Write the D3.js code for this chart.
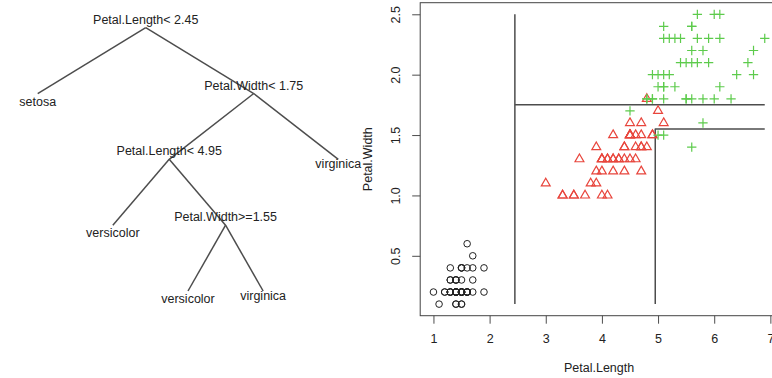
<!DOCTYPE html>
<html>
<head>
<meta charset="utf-8">
<script src="https://cdn.jsdelivr.net/npm/d3@7"></script>
<style>
  body { margin: 0; background: #fff; }
  svg { display: block; font-family: "Liberation Sans", Arial, sans-serif; }
</style>
</head>
<body>
<svg id="chart" width="772" height="378"></svg>
<script>
// iris petal measurements, one pair of arrays per species
const setosaLength = [1.4,1.4,1.3,1.5,1.4,1.7,1.4,1.5,1.4,1.5,1.5,1.6,1.4,1.1,1.2,1.5,1.3,1.4,1.7,1.5,1.7,1.5,1.0,1.7,1.9,1.6,1.6,1.5,1.4,1.6,1.6,1.5,1.5,1.4,1.5,1.2,1.3,1.4,1.3,1.5,1.3,1.3,1.3,1.6,1.9,1.4,1.6,1.4,1.5,1.4];
const setosaWidth  = [0.2,0.2,0.2,0.2,0.2,0.4,0.3,0.2,0.2,0.1,0.2,0.2,0.1,0.1,0.2,0.4,0.4,0.3,0.3,0.3,0.2,0.4,0.2,0.5,0.2,0.2,0.4,0.2,0.2,0.2,0.2,0.4,0.1,0.2,0.2,0.2,0.2,0.1,0.2,0.2,0.3,0.3,0.2,0.6,0.4,0.3,0.2,0.2,0.2,0.2];
const versicolorLength = [4.7,4.5,4.9,4.0,4.6,4.5,4.7,3.3,4.6,3.9,3.5,4.2,4.0,4.7,3.6,4.4,4.5,4.1,4.5,3.9,4.8,4.0,4.9,4.7,4.3,4.4,4.8,5.0,4.5,3.5,3.8,3.7,3.9,5.1,4.5,4.5,4.7,4.4,4.1,4.0,4.4,4.6,4.0,3.3,4.2,4.2,4.2,4.3,3.0,4.1];
const versicolorWidth  = [1.4,1.5,1.5,1.3,1.5,1.3,1.6,1.0,1.3,1.4,1.0,1.5,1.0,1.4,1.3,1.4,1.5,1.0,1.5,1.1,1.8,1.3,1.5,1.2,1.3,1.4,1.4,1.7,1.5,1.0,1.1,1.0,1.2,1.6,1.5,1.6,1.5,1.3,1.3,1.3,1.2,1.4,1.2,1.0,1.3,1.2,1.3,1.3,1.1,1.3];
const virginicaLength = [6.0,5.1,5.9,5.6,5.8,6.6,4.5,6.3,5.8,6.1,5.1,5.3,5.5,5.0,5.1,5.3,5.5,6.7,6.9,5.0,5.7,4.9,6.7,4.9,5.7,6.0,4.8,4.9,5.6,5.8,6.1,6.4,5.6,5.1,5.6,6.1,5.6,5.5,4.8,5.4,5.6,5.1,5.1,5.9,5.7,5.2,5.0,5.2,5.4,5.1];
const virginicaWidth  = [2.5,1.9,2.1,1.8,2.2,2.1,1.7,1.8,1.8,2.5,2.0,1.9,2.1,2.0,2.4,2.3,1.8,2.2,2.3,1.5,2.3,2.0,2.0,1.8,2.1,1.8,1.8,1.8,2.1,1.6,1.9,2.0,2.2,1.5,1.4,2.3,2.4,1.8,1.8,2.1,2.4,2.3,1.9,2.3,2.5,2.3,1.9,2.0,2.3,1.8];

// fitted rpart tree
const nodeIds    = [1, 2, 3, 6, 12, 13, 26, 27, 7];
const nodeParent = [null, 1, 1, 3, 6, 6, 13, 13, 3];
const nodeLabels = ["Petal.Length< 2.45", "setosa", "Petal.Width< 1.75", "Petal.Length< 4.95",
                    "versicolor", "Petal.Width>=1.55", "versicolor", "virginica", "virginica"];

// split thresholds
const splitLength1 = 2.45;
const splitWidth1 = 1.75;
const splitLength2 = 4.95;
const splitWidth2 = 1.55;

const xTicks = [1, 2, 3, 4, 5, 6, 7];
const yTicks = [0.5, 1.0, 1.5, 2.0, 2.5];

const font = "12.5px 'Liberation Sans', Arial, sans-serif";
const ink = "#222";
const lineCol = "#4d4d4d";

const svg = d3.select("#chart");

// ---------- tree ----------
const root = d3.stratify()
  .id((d, i) => nodeIds[i])
  .parentId((d, i) => nodeParent[i])(nodeLabels.map((label, i) => ({ label })));

const leaves = root.leaves();
leaves.forEach((d, i) => d.xi = i + 1);
root.eachAfter(d => { if (d.children) d.xi = d3.mean(d.children, c => c.xi); });

const tx = d3.scaleLinear().domain([1, leaves.length]).range([37.7, 338.3]);
const ty = d3.scaleLinear().domain([0, root.height]).range([27.7, 291]);

const tree = svg.append("g").attr("class", "tree");

tree.selectAll("line")
  .data(root.links())
  .join("line")
  .attr("x1", d => tx(d.source.xi))
  .attr("y1", d => ty(d.source.depth))
  .attr("x2", d => tx(d.target.xi))
  .attr("y2", d => ty(d.target.depth))
  .attr("stroke", lineCol)
  .attr("stroke-width", 1.5);

const ctx = document.createElement("canvas").getContext("2d");
ctx.font = font;

tree.selectAll("text")
  .data(root.descendants())
  .join("text")
  .attr("x", d => tx(d.xi))
  .attr("y", d => {
    if (d.children) return ty(d.depth) - 4;
    const desc = ctx.measureText(d.data.label).actualBoundingBoxDescent || 0;
    return ty(d.depth) + 12 - desc;
  })
  .attr("text-anchor", "middle")
  .style("font", font)
  .attr("fill", ink)
  .text(d => d.data.label);

// ---------- scatter ----------
const allLength = [...setosaLength, ...versicolorLength, ...virginicaLength];
const allWidth = [...setosaWidth, ...versicolorWidth, ...virginicaWidth];
const [lenMin, lenMax] = d3.extent(allLength);
const [widMin, widMax] = d3.extent(allWidth);
const padX = (lenMax - lenMin) * 0.04, padY = (widMax - widMin) * 0.04;

const x = d3.scaleLinear().domain([lenMin - padX, lenMax + padX]).range([420.2, 778]);
const y = d3.scaleLinear().domain([widMin - padY, widMax + padY]).range([315.7, 2.7]);

const plot = svg.append("g").attr("class", "scatter");

const xAxis = plot.append("g")
  .attr("transform", `translate(0,${y.range()[0]})`)
  .call(d3.axisBottom(x).tickValues(xTicks).tickSize(8).tickPadding(10).tickFormat(d3.format("d")));
const yAxis = plot.append("g")
  .attr("transform", `translate(${x.range()[0]},0)`)
  .call(d3.axisLeft(y).tickValues(yTicks).tickSize(8).tickFormat(d3.format(".1f")));

[xAxis, yAxis].forEach(g => {
  g.select(".domain").remove();
  g.selectAll("line").attr("stroke", lineCol);
  g.selectAll("text").style("font", font).attr("fill", ink);
});
yAxis.selectAll("text")
  .attr("x", null).attr("dy", null)
  .attr("text-anchor", "middle")
  .attr("transform", "translate(-20,0) rotate(-90)");

plot.append("rect")
  .attr("x", x.range()[0]).attr("y", y.range()[1])
  .attr("width", x.range()[1] - x.range()[0])
  .attr("height", y.range()[0] - y.range()[1])
  .attr("fill", "none").attr("stroke", "#444").attr("stroke-width", 1);

plot.append("text")
  .attr("x", (x.range()[0] + x.range()[1]) / 2).attr("y", 372)
  .attr("text-anchor", "middle").style("font", font).attr("fill", ink)
  .text("Petal.Length");
plot.append("text")
  .attr("transform", `translate(372,${(y.range()[0] + y.range()[1]) / 2}) rotate(-90)`)
  .attr("text-anchor", "middle").style("font", font).attr("fill", ink)
  .text("Petal.Width");

// partition lines
const splitPaths = [
  [[splitLength1, widMin], [splitLength1, widMax]],
  [[splitLength1, splitWidth1], [lenMax, splitWidth1]],
  [[splitLength2, widMin], [splitLength2, splitWidth2], [lenMax, splitWidth2]]
];
const line = d3.line().x(d => x(d[0])).y(d => y(d[1]));
plot.selectAll("path.split")
  .data(splitPaths)
  .join("path")
  .attr("class", "split")
  .attr("d", line)
  .attr("fill", "none")
  .attr("stroke", lineCol)
  .attr("stroke-width", 1.5)
  .attr("stroke-linejoin", "round");

// symbols, sized like R's pch 1/2/3
const rad = 3.3;
const triangle = {
  draw(p) {
    const top = 1.5551 * rad, xc = 1.3468 * rad, yc = 0.7776 * rad;
    p.moveTo(0, -top); p.lineTo(xc, yc); p.lineTo(-xc, yc); p.closePath();
  }
};
const plus = {
  draw(p) {
    const r = Math.SQRT2 * rad;
    p.moveTo(-r, 0); p.lineTo(r, 0); p.moveTo(0, -r); p.lineTo(0, r);
  }
};

plot.append("g").selectAll("circle")
  .data(d3.zip(setosaLength, setosaWidth))
  .join("circle")
  .attr("cx", d => x(d[0])).attr("cy", d => y(d[1]))
  .attr("r", rad)
  .attr("fill", "none").attr("stroke", "#222").attr("stroke-width", 1);

plot.append("g").selectAll("path")
  .data(d3.zip(versicolorLength, versicolorWidth))
  .join("path")
  .attr("transform", d => `translate(${x(d[0])},${y(d[1])})`)
  .attr("d", d3.symbol(triangle)())
  .attr("fill", "none").attr("stroke", "#E8453C").attr("stroke-width", 1.2);

plot.append("g").selectAll("path")
  .data(d3.zip(virginicaLength, virginicaWidth))
  .join("path")
  .attr("transform", d => `translate(${x(d[0])},${y(d[1])})`)
  .attr("d", d3.symbol(plus)())
  .attr("fill", "none").attr("stroke", "#5DCB4C").attr("stroke-width", 1.2);
</script>
</body>
</html>
